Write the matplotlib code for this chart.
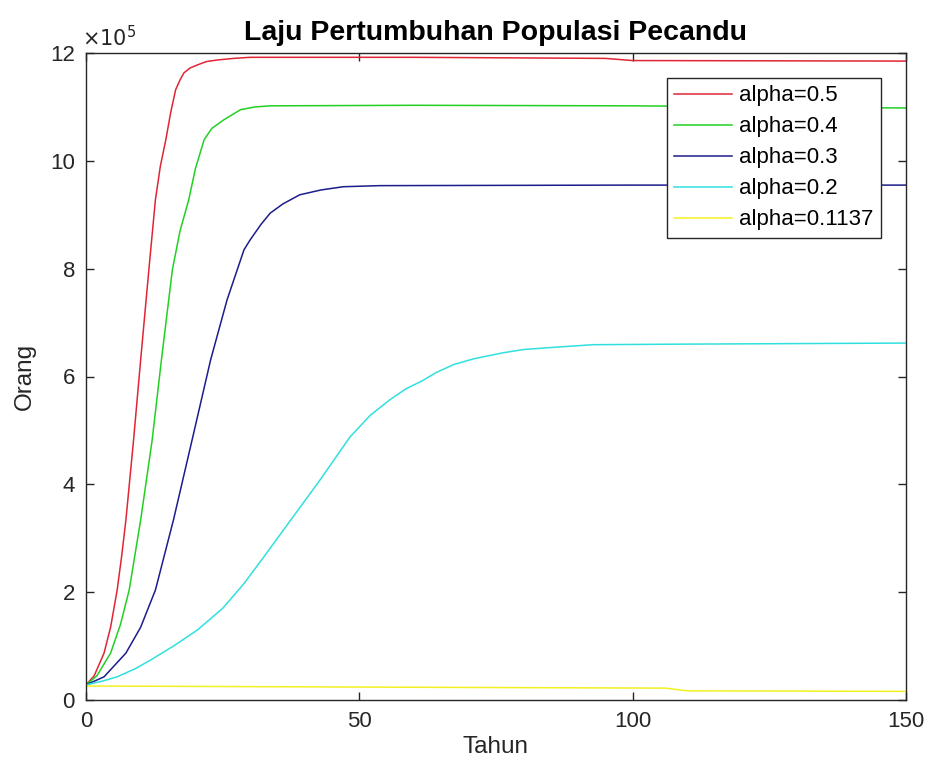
import matplotlib
matplotlib.use("Agg")
import matplotlib.pyplot as plt
from matplotlib.ticker import FuncFormatter

plt.rcParams['font.family'] = ['Liberation Sans', 'DejaVu Sans']

# values in units of 1e5 persons
t_red = [0, 1.5, 3.3, 4.5, 5.7, 6.5, 7.3, 8.7, 10.0, 11.5, 12.7, 13.6, 14.6, 15.5, 16.4, 17.2, 17.9, 19.0, 20.4, 22, 24, 27, 30, 60, 95, 100, 150]
v_red = [0.28, 0.45, 0.87, 1.35, 2.04, 2.65, 3.34, 4.82, 6.31, 7.98, 9.28, 9.9, 10.39, 10.9, 11.32, 11.5, 11.63, 11.72, 11.78, 11.84, 11.87, 11.9, 11.92, 11.92, 11.90, 11.86, 11.85]

t_green = [0, 2, 4.5, 6.3, 7.9, 10.0, 12.1, 13.8, 15.8, 17.2, 18.8, 20.0, 21.6, 23.0, 25.2, 28.3, 31.0, 33.7, 60, 100, 150]
v_green = [0.28, 0.45, 0.87, 1.4, 2.04, 3.34, 4.82, 6.31, 7.98, 8.7, 9.28, 9.85, 10.39, 10.6, 10.76, 10.95, 11.0, 11.02, 11.03, 11.02, 10.98]

t_blue = [0, 3.3, 7.3, 10, 12.7, 16.0, 19.4, 22.8, 25.8, 28.9, 30, 32, 33.7, 36, 39.1, 43, 47.1, 53.8, 100, 150]
v_blue = [0.28, 0.43, 0.87, 1.35, 2.04, 3.34, 4.82, 6.31, 7.42, 8.35, 8.53, 8.82, 9.03, 9.2, 9.37, 9.46, 9.52, 9.54, 9.55, 9.55]

t_cyan = [0, 3, 5.7, 9, 11.8, 16, 20.4, 25, 28.9, 32.5, 36.1, 42.8, 48.3, 52, 55.6, 58.5, 61.5, 64, 67.2, 71, 76.3, 80, 85.4, 92.8, 108.7, 150]
v_cyan = [0.28, 0.35, 0.43, 0.58, 0.74, 1.0, 1.30, 1.7, 2.16, 2.65, 3.15, 4.08, 4.88, 5.28, 5.57, 5.77, 5.92, 6.07, 6.22, 6.33, 6.44, 6.5, 6.54, 6.59, 6.60, 6.62]

t_yellow = [0, 50, 106, 110, 150]
v_yellow = [0.26, 0.24, 0.22, 0.17, 0.16]

labels = ['alpha=0.5', 'alpha=0.4', 'alpha=0.3', 'alpha=0.2', 'alpha=0.1137']
colors = ['#e02535', '#22d022', '#1c1c8c', '#30e0e0', '#f2f022']
series = [(t_red, v_red), (t_green, v_green), (t_blue, v_blue), (t_cyan, v_cyan), (t_yellow, v_yellow)]

SCALE = 1e5

fig = plt.figure(figsize=(9.28, 7.78), dpi=100)
ax = fig.add_axes([86/928, 78/778, 820/928, 647/778])

for (t, v), lab, c in zip(series, labels, colors):
    ax.plot(t, [x * SCALE for x in v], color=c, lw=1.1, label=lab)

ax.set_xlim(0, 150)
ax.set_ylim(0, 12 * SCALE)
ax.set_xticks([0, 50, 100, 150])
ax.set_yticks([i * SCALE for i in range(0, 13, 2)])
ax.yaxis.set_major_formatter(FuncFormatter(lambda v, p: f"{v / SCALE:g}"))
ax.tick_params(direction='in', length=6, width=1, top=True, right=True,
               labelsize=16, colors='#262626', pad=8)
for s in ax.spines.values():
    s.set_color('#262626')
    s.set_linewidth(1)

ax.set_xlabel('Tahun', fontsize=17.5, color='#262626', labelpad=3)
ax.set_ylabel('Orang', fontsize=17.5, color='#262626', labelpad=10)
ax.set_title('Laju Pertumbuhan Populasi Pecandu', fontsize=20.5, fontweight='bold', pad=9)
ax.text(-0.005, 1.005, r'$\times 10^5$', transform=ax.transAxes, fontsize=15,
        color='#262626', ha='left', va='bottom')

leg = ax.legend(loc='upper right', bbox_to_anchor=(0.970, 0.962), fontsize=16,
                frameon=True, fancybox=False, edgecolor='#262626', framealpha=1,
                handlelength=2.6, handletextpad=0.32, borderpad=0.35, labelspacing=0.45,
                borderaxespad=0)
leg.get_frame().set_linewidth(1)

fig.savefig('out.png', dpi=100)
